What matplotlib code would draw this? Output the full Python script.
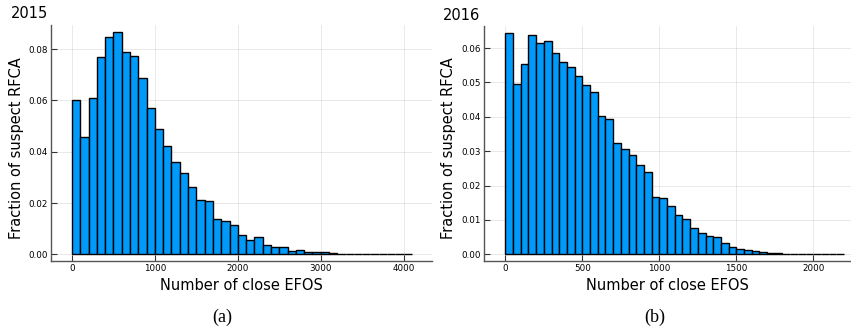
import numpy as np
import matplotlib
matplotlib.use('Agg')
import matplotlib.pyplot as plt

# 2015: bins of 100, from 0 to 4100
frac_2015 = [0.0600, 0.0459, 0.0611, 0.0769, 0.0846, 0.0868, 0.0788, 0.0774, 0.0689, 0.0571,
             0.0490, 0.0422, 0.0361, 0.0318, 0.0261, 0.0211, 0.0209, 0.0138, 0.0130, 0.0113,
             0.0074, 0.0057, 0.0066, 0.0038, 0.0029, 0.0027, 0.0014, 0.0016, 0.0008, 0.0009,
             0.0009, 0.0005, 0.0003, 0.0002, 0.0002, 0.0002, 0.0002, 0.0001, 0.0001, 0.0001,
             0.0001]
bin_2015 = 100

# 2016: bins of 50, from 0 to 2200
frac_2016 = [0.0645, 0.0496, 0.0554, 0.0638, 0.0615, 0.0620, 0.0587, 0.0559, 0.0545, 0.0519,
             0.0492, 0.0472, 0.0403, 0.0395, 0.0324, 0.0306, 0.0290, 0.0259, 0.0239, 0.0167,
             0.0165, 0.0141, 0.0115, 0.0102, 0.0076, 0.0062, 0.0053, 0.0051, 0.0033, 0.0021,
             0.0017, 0.0012, 0.0010, 0.0008, 0.0005, 0.0004, 0.0002, 0.0002, 0.0001, 0.0001,
             0.0001, 0.0001, 0.0001, 0.0001]
bin_2016 = 50

W, H = 851, 329
fig = plt.figure(figsize=(W / 100, H / 100), dpi=100)


def panel(rect, vals, width, xlim, xticks, yticks, title, title_xy, ylab_x, cap, cap_x):
    l, r, t, b = rect
    ax = fig.add_axes([l / W, 1 - b / H, (r - l) / W, (b - t) / H])
    edges = np.arange(len(vals)) * width
    ax.bar(edges, vals, width=width, align='edge', color='#009AFA',
           edgecolor='black', linewidth=1.0, zorder=3)
    ax.set_xlim(*xlim)
    ax.set_ylim(-0.03 * max(vals), 1.03 * max(vals))
    ax.set_xticks(xticks)
    ax.set_yticks(yticks)
    ax.set_yticklabels(['%.2f' % v for v in yticks])
    ax.grid(True, color='black', alpha=0.1, linewidth=0.6, zorder=0)
    ax.tick_params(direction='in', length=4, width=0.8, labelsize=6.3, colors='#333333',
                   labelcolor='black', pad=2)
    for s in ['top', 'right']:
        ax.spines[s].set_visible(False)
    for s in ['left', 'bottom']:
        ax.spines[s].set_color('#555555')
        ax.spines[s].set_linewidth(1.0)
    ax.set_xlabel('Number of close EFOS', fontsize=10.5, labelpad=4)
    fig.text(ylab_x / W, 1 - 148 / H, 'Fraction of suspect RFCA', rotation=90,
             fontsize=10.5, ha='center', va='center')
    fig.text(title_xy[0] / W, 1 - title_xy[1] / H, title, fontsize=10.5,
             ha='left', va='center')
    fig.text(cap_x / W, 1 - 317 / H, cap, fontsize=13, family='Liberation Serif',
             ha='center', va='center')
    return ax


panel((51, 432, 25, 261), frac_2015, bin_2015, (-253, 4342),
      [0, 1000, 2000, 3000, 4000], [0.0, 0.02, 0.04, 0.06, 0.08],
      '2015', (11, 13), 17, '(a)', 222)
panel((484, 851, 26, 261), frac_2016, bin_2016, (-139, 2245),
      [0, 500, 1000, 1500, 2000], [0.0, 0.01, 0.02, 0.03, 0.04, 0.05, 0.06],
      '2016', (443, 16), 449, '(b)', 655)

fig.savefig('out.png', dpi=100)
